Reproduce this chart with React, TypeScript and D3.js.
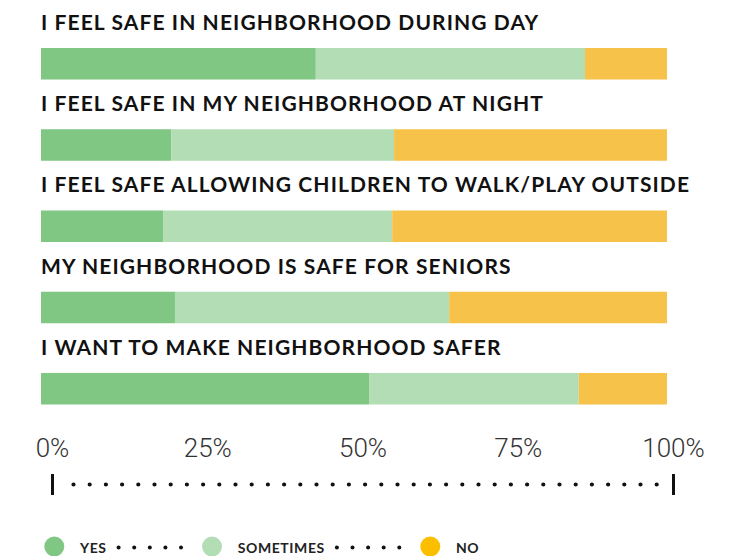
import { useEffect, useRef } from "react"
import * as d3 from "d3"

// survey statements, top to bottom
const questions = [
  "I FEEL SAFE IN NEIGHBORHOOD DURING DAY",
  "I FEEL SAFE IN MY NEIGHBORHOOD AT NIGHT",
  "I FEEL SAFE ALLOWING CHILDREN TO WALK/PLAY OUTSIDE",
  "MY NEIGHBORHOOD IS SAFE FOR SENIORS",
  "I WANT TO MAKE NEIGHBORHOOD SAFER",
]

// share of answers, in percent
const yesValues = [43.9, 20.8, 19.5, 21.4, 52.4]
const sometimesValues = [43.0, 35.6, 36.6, 43.8, 33.5]
const noValues = [13.1, 43.6, 43.9, 34.8, 14.1]

const answers = ["YES", "SOMETIMES", "NO"]
const axisTicks = [0, 25, 50, 75, 100]

const barColors = ["#81c784", "#b3deb5", "#f6c24a"]
const legendColors = ["#81c784", "#b3deb5", "#fbbf00"]

export default function App() {
  const svgRef = useRef<SVGSVGElement>(null)

  useEffect(() => {
    if (!svgRef.current) return
    const svg = d3.select(svgRef.current)
    svg.selectAll("*").remove()

    const rows = questions.map((q, i) => ({
      question: q,
      YES: yesValues[i],
      SOMETIMES: sometimesValues[i],
      NO: noValues[i],
    }))

    const barX = d3.scaleLinear().domain([0, 100]).range([41, 667])
    const axisX = d3.scaleLinear().domain([0, 100]).range([52.5, 673.5])
    const rowY = d3
      .scaleBand()
      .domain(questions)
      .range([48, 404.5])
      .paddingInner(0.612)
      .paddingOuter(0)

    const color = d3.scaleOrdinal<string, string>().domain(answers).range(barColors)
    const legendColor = d3.scaleOrdinal<string, string>().domain(answers).range(legendColors)

    const stacked = d3.stack<any>().keys(answers)(rows)

    // statement titles
    svg
      .append("g")
      .selectAll("text")
      .data(questions)
      .join("text")
      .attr("x", barX(0))
      .attr("y", (d) => (rowY(d) || 0) - 18)
      .attr("font-family", "Lato, sans-serif")
      .attr("font-weight", 700)
      .attr("font-size", "21px")
      .attr("letter-spacing", "1.1px")
      .attr("fill", "#111")
      .text((d) => d)

    // stacked bars
    svg
      .append("g")
      .selectAll("g")
      .data(stacked)
      .join("g")
      .attr("fill", (d) => color(d.key))
      .selectAll("rect")
      .data((d) => d)
      .join("rect")
      .attr("x", (d) => barX(d[0]))
      .attr("y", (d) => rowY(d.data.question) || 0)
      .attr("width", (d) => barX(d[1]) - barX(d[0]))
      .attr("height", rowY.bandwidth())

    // percent axis
    const axis = svg.append("g")
    axis
      .selectAll("text")
      .data(axisTicks)
      .join("text")
      .attr("x", (d) => axisX(d))
      .attr("y", 457)
      .attr("text-anchor", "middle")
      .attr("font-family", "Roboto, sans-serif")
      .attr("font-weight", 300)
      .attr("font-size", "26px")
      .attr("fill", "#333")
      .text((d) => `${d}%`)

    axis
      .append("line")
      .attr("x1", axisX(0) + 21)
      .attr("x2", axisX(100) - 16)
      .attr("y1", 484.5)
      .attr("y2", 484.5)
      .attr("stroke", "#111")
      .attr("stroke-width", 4.2)
      .attr("stroke-linecap", "round")
      .attr("stroke-dasharray", "0 16.2")

    axis
      .selectAll("rect")
      .data([0, 100])
      .join("rect")
      .attr("x", (d) => axisX(d) - 1.5)
      .attr("y", 474)
      .attr("width", 3)
      .attr("height", 21)
      .attr("fill", "#111")

    // legend
    const legend = svg.append("g")
    let cx = 54.3
    answers.forEach((a, i) => {
      legend
        .append("circle")
        .attr("cx", cx)
        .attr("cy", 546.5)
        .attr("r", 10)
        .attr("fill", legendColor(a))
      const label = legend
        .append("text")
        .attr("x", cx + 25.7)
        .attr("y", 553)
        .attr("font-family", "Lato, sans-serif")
        .attr("font-weight", 700)
        .attr("font-size", "14px")
        .attr("letter-spacing", "0.6px")
        .attr("fill", "#222")
        .text(a)
      const textEnd = cx + 25.7 + (label.node() as SVGTextElement).getComputedTextLength()
      if (i < answers.length - 1) {
        const dots = d3.range(5).map((k) => textEnd + 12 + k * 15.6)
        legend
          .append("g")
          .selectAll("circle")
          .data(dots)
          .join("circle")
          .attr("cx", (d) => d)
          .attr("cy", 547.5)
          .attr("r", 2)
          .attr("fill", "#111")
        cx = dots[dots.length - 1] + 31
      }
    })
  }, [])

  return (
    <svg
      ref={svgRef}
      width={729}
      height={556}
      style={{ position: "absolute", left: 0, top: 0, background: "#fff" }}
    />
  )
}
